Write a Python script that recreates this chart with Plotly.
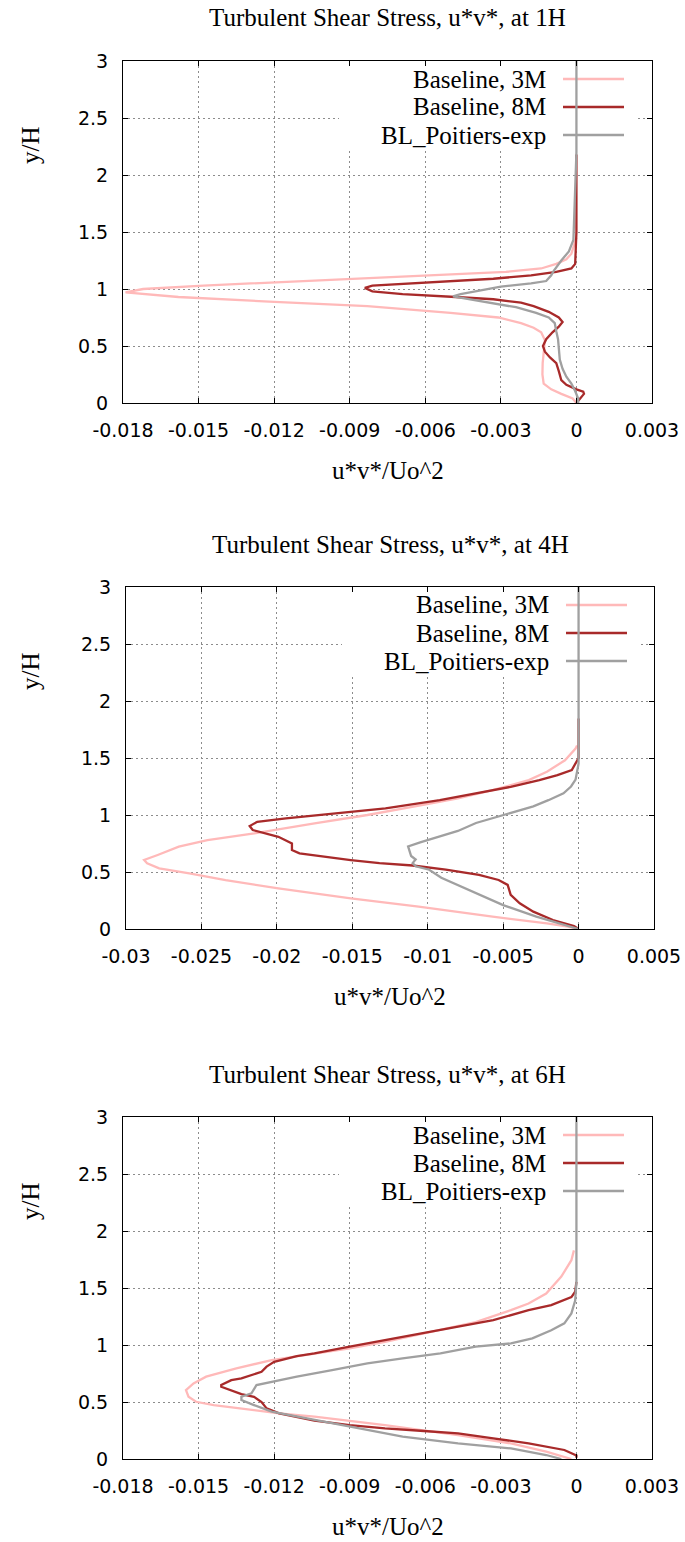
import plotly.graph_objects as go

# ---------------- data ----------------
titles = ["Turbulent Shear Stress, u*v*, at 1H",
          "Turbulent Shear Stress, u*v*, at 4H",
          "Turbulent Shear Stress, u*v*, at 6H"]
series_names = ["Baseline, 3M", "Baseline, 8M", "BL_Poitiers-exp"]
x_title = "u*v*/Uo^2"
y_title = "y/H"

y_tickvals = [0, 0.5, 1, 1.5, 2, 2.5, 3]
y_ticktext = ["0", "0.5", "1", "1.5", "2", "2.5", "3"]
x_tickvals_a = [-0.018, -0.015, -0.012, -0.009, -0.006, -0.003, 0, 0.003]
x_ticktext_a = ["-0.018", "-0.015", "-0.012", "-0.009", "-0.006", "-0.003", "0", "0.003"]
x_tickvals_b = [-0.03, -0.025, -0.02, -0.015, -0.01, -0.005, 0, 0.005]
x_ticktext_b = ["-0.03", "-0.025", "-0.02", "-0.015", "-0.01", "-0.005", "0", "0.005"]

# ---- at 1H ----
p1_3m_y = [0.0, 0.04, 0.08, 0.12, 0.17, 0.25, 0.35, 0.45, 0.55, 0.62, 0.66, 0.70, 0.75,
           0.79, 0.82, 0.85, 0.89, 0.93, 0.97, 1.00, 1.03, 1.06, 1.09, 1.12, 1.15, 1.18,
           1.22, 1.26, 1.31, 1.38, 1.45]
p1_3m_x = [0.0, -0.00015, -0.0006, -0.001, -0.0013, -0.00135, -0.00134, -0.0013, -0.00125,
           -0.0014, -0.0017, -0.0022, -0.0031, -0.005, -0.0066, -0.0083, -0.0122, -0.0158,
           -0.0179, -0.0172, -0.0148, -0.0118, -0.0085, -0.0052, -0.0028, -0.0014, -0.0008,
           -0.0004, -0.0002, -0.0001, 0.0]

p1_8m_y = [0.0, 0.05, 0.08, 0.10, 0.12, 0.16, 0.20, 0.28, 0.35, 0.40, 0.45, 0.50, 0.56,
           0.62, 0.67, 0.71, 0.75, 0.80, 0.85, 0.88, 0.91, 0.93, 0.955, 0.98, 1.01, 1.03,
           1.05, 1.07, 1.09, 1.12, 1.15, 1.18, 1.22, 1.5, 2.05, 2.18]
p1_8m_x = [0.0, 0.0002, 0.0003, 0.00027, 0.0, -0.0004, -0.0006, -0.0007, -0.0008, -0.00105,
           -0.00125, -0.00133, -0.0012, -0.00095, -0.0007, -0.00055, -0.0007, -0.0011,
           -0.0017, -0.0022, -0.0033, -0.0048, -0.0069, -0.0081, -0.0084, -0.0081, -0.0064,
           -0.0048, -0.0033, -0.0018, -0.0008, -0.0002, -0.00005, 0.0, 0.0, 0.0]

p1_exp_y = [0.0, 0.04, 0.11, 0.17, 0.23, 0.30, 0.38, 0.49, 0.56, 0.63, 0.70, 0.75, 0.79,
            0.84, 0.89, 0.935, 0.955, 0.99, 1.02, 1.05, 1.07, 1.12, 1.16, 1.25, 1.33, 1.43,
            1.55, 1.70, 1.90, 2.2, 3.0]
p1_exp_x = [0.00007, 0.00007, -0.00006, -0.0002, -0.0004, -0.00055, -0.00066, -0.0007,
            -0.00073, -0.0008, -0.00086, -0.0011, -0.0016, -0.0024, -0.0038, -0.0049,
            -0.0046, -0.0037, -0.0030, -0.0018, -0.0012, -0.001, -0.0009, -0.0006, -0.0003,
            -0.00012, -0.0001, -0.00006, -0.00002, 0.0, 0.0]

# ---- at 4H ----
p2_3m_y = [0.0, 0.02, 0.05, 0.108, 0.196, 0.269, 0.356, 0.429, 0.488, 0.532, 0.576, 0.605,
           0.649, 0.722, 0.78, 0.838, 0.926, 1.0, 1.087, 1.145, 1.218, 1.306, 1.379, 1.48,
           1.583, 1.61]
p2_3m_x = [0.0, -0.0007, -0.0021, -0.0057, -0.0106, -0.0151, -0.0199, -0.0234, -0.0258,
           -0.0278, -0.0286, -0.0288, -0.0279, -0.0265, -0.0246, -0.0215, -0.0175, -0.014,
           -0.0104, -0.008, -0.0057, -0.0033, -0.0021, -0.0009, -0.0002, -0.0001]

p2_8m_y = [0.0, 0.026, 0.079, 0.152, 0.226, 0.30, 0.387, 0.43, 0.475, 0.52, 0.557, 0.578,
           0.605, 0.634, 0.663, 0.692, 0.751, 0.809, 0.833, 0.868, 0.903, 0.94, 0.97, 1.014,
           1.058, 1.13, 1.19, 1.247, 1.306, 1.35, 1.394, 1.452, 1.5, 1.846]
p2_8m_x = [0.0, -0.0003, -0.0017, -0.003, -0.0039, -0.0045, -0.0047, -0.0053, -0.0066,
           -0.0088, -0.011, -0.0132, -0.0151, -0.017, -0.0185, -0.019, -0.019, -0.0199,
           -0.0206, -0.0216, -0.0218, -0.0213, -0.0194, -0.0163, -0.0128, -0.0092, -0.0068,
           -0.0045, -0.0026, -0.0014, -0.00045, -0.0002, 0.0, 0.0]

p2_exp_y = [0.0, 0.02, 0.108, 0.21, 0.30, 0.372, 0.45, 0.52, 0.55, 0.578, 0.61, 0.64, 0.68,
            0.724, 0.76, 0.81, 0.86, 0.93, 1.0, 1.076, 1.13, 1.19, 1.25, 1.31, 1.45, 3.0]
p2_exp_x = [0.0, -0.0005, -0.0028, -0.005, -0.0065, -0.0077, -0.0091, -0.0099, -0.0108,
            -0.011, -0.0108, -0.0111, -0.0112, -0.0113, -0.0105, -0.0092, -0.008, -0.0068,
            -0.0049, -0.003, -0.002, -0.001, -0.0005, -0.0002, 0.0, 0.0]

# ---- at 6H ----
p3_3m_y = [0.0, 0.064, 0.137, 0.21, 0.298, 0.371, 0.40, 0.444, 0.473, 0.502, 0.546, 0.605,
           0.663, 0.722, 0.795, 0.868, 0.903, 0.97, 1.028, 1.13, 1.20, 1.306, 1.364, 1.452,
           1.60, 1.744, 1.83]
p3_3m_x = [-0.0002, -0.0012, -0.0026, -0.0047, -0.0076, -0.0104, -0.0118, -0.0133, -0.0144,
           -0.0151, -0.0154, -0.0155, -0.0152, -0.0147, -0.0135, -0.0121, -0.0111, -0.009,
           -0.0076, -0.0054, -0.004, -0.0026, -0.0019, -0.0012, -0.0006, -0.0002, -0.0001]

p3_8m_y = [0.01, 0.03, 0.079, 0.137, 0.181, 0.225, 0.248, 0.269, 0.298, 0.336, 0.40, 0.444,
           0.50, 0.546, 0.57, 0.605, 0.634, 0.649, 0.692, 0.707, 0.765, 0.81, 0.853, 0.903,
           0.926, 0.985, 1.043, 1.10, 1.16, 1.218, 1.306, 1.35, 1.42, 1.467, 1.554]
p3_8m_x = [0.0, 0.0, -0.00048, -0.0019, -0.0033, -0.0047, -0.0062, -0.0076, -0.009, -0.0104,
           -0.0118, -0.0123, -0.0125, -0.0128, -0.0133, -0.0137, -0.0141, -0.0141, -0.0137,
           -0.0133, -0.0125, -0.0123, -0.012, -0.0111, -0.0104, -0.009, -0.0076, -0.0062,
           -0.0047, -0.0033, -0.0019, -0.001, -0.0002, -0.00005, 0.0]

p3_exp_y = [0.0, 0.035, 0.093, 0.137, 0.196, 0.254, 0.313, 0.371, 0.415, 0.473, 0.517, 0.546,
            0.576, 0.649, 0.678, 0.722, 0.78, 0.838, 0.882, 0.926, 0.985, 1.014, 1.058, 1.13,
            1.19, 1.277, 1.39, 1.55, 3.0]
p3_exp_x = [-0.0006, -0.0012, -0.0026, -0.0047, -0.0069, -0.0083, -0.0097, -0.0111, -0.0121,
            -0.0128, -0.0133, -0.0133, -0.0129, -0.0127, -0.0121, -0.0111, -0.0097, -0.0083,
            -0.0069, -0.0054, -0.004, -0.0026, -0.00175, -0.001, -0.00048, -0.0002, -0.00005,
            0.0, 0.0]

# ---------------- styling / layout ----------------
W, H = 685, 1542
colors = ["#ffb9b9", "#a82a2a", "#a0a0a0"]
SERIF = "Liberation Serif"
SANS = "DejaVu Sans"
YR = [0, 3]

panels = [
    dict(top=61, bot=403, left=123, right=652, xr=[-0.018, 0.003],
         tv=x_tickvals_a, tt=x_ticktext_a,
         data=[(p1_3m_x, p1_3m_y), (p1_8m_x, p1_8m_y), (p1_exp_x, p1_exp_y)]),
    dict(top=587, bot=929, left=126, right=654, xr=[-0.03, 0.005],
         tv=x_tickvals_b, tt=x_ticktext_b,
         data=[(p2_3m_x, p2_3m_y), (p2_8m_x, p2_8m_y), (p2_exp_x, p2_exp_y)]),
    dict(top=1117, bot=1459, left=123, right=652, xr=[-0.018, 0.003],
         tv=x_tickvals_a, tt=x_ticktext_a,
         data=[(p3_3m_x, p3_3m_y), (p3_8m_x, p3_8m_y), (p3_exp_x, p3_exp_y)]),
]

fig = go.Figure()
annotations = []
shapes = []
layout_axes = {}

for i, p in enumerate(panels):
    n = "" if i == 0 else str(i + 1)
    xa, ya = "x" + n, "y" + n
    for k, (xs, ys) in enumerate(p["data"]):
        fig.add_trace(go.Scatter(x=xs, y=ys, mode="lines", name=series_names[k],
                                 line=dict(color=colors[k], width=2.3),
                                 showlegend=False, xaxis=xa, yaxis=ya))
    xdom = [p["left"] / W, p["right"] / W]
    ydom = [1 - p["bot"] / H, 1 - p["top"] / H]
    common = dict(showline=True, linecolor="#000000", linewidth=1, mirror="ticks",
                  ticks="inside", ticklen=5, tickcolor="#000000", tickwidth=1,
                  showgrid=True, gridcolor="#8c8c8c", gridwidth=1, griddash="2px,3px",
                  zeroline=False, tickfont=dict(family=SANS, size=19, color="#000000"),
                  ticklabelstandoff=10, automargin=False)
    layout_axes["xaxis" + n] = dict(common, domain=xdom, range=p["xr"], anchor=ya,
                                    tickmode="array", tickvals=p["tv"], ticktext=p["tt"])
    layout_axes["yaxis" + n] = dict(common, domain=ydom, range=YR, anchor=xa,
                                    tickmode="array", tickvals=y_tickvals,
                                    ticktext=y_ticktext)

    # pixel -> data helpers for legend placement (layout only)
    def dx(px, p=p):
        return p["xr"][0] + (px - p["left"]) / (p["right"] - p["left"]) * (p["xr"][1] - p["xr"][0])

    def dy(py, p=p):
        return YR[0] + (p["bot"] - py) / (p["bot"] - p["top"]) * (YR[1] - YR[0])

    cx = (p["left"] + p["right"]) / 2 / W
    annotations.append(dict(text=titles[i], x=cx, y=1 - (p["top"] - 43) / H,
                            xref="paper", yref="paper", showarrow=False,
                            xanchor="center", yanchor="middle",
                            font=dict(family=SERIF, size=25, color="#000000")))
    annotations.append(dict(text=x_title, x=cx, y=1 - (p["bot"] + 67) / H,
                            xref="paper", yref="paper", showarrow=False,
                            xanchor="center", yanchor="middle",
                            font=dict(family=SERIF, size=25, color="#000000")))
    annotations.append(dict(text=y_title, x=30 / W, y=1 - (p["top"] + 84) / H,
                            xref="paper", yref="paper", showarrow=False, textangle=-90,
                            xanchor="center", yanchor="middle",
                            font=dict(family=SERIF, size=25, color="#000000")))
    # legend box (white, above grid, below curves)
    off = p["left"] - 123
    shapes.append(dict(type="rect", layer="between", xref=xa, yref=ya,
                       x0=dx(339 + off), x1=dx(638 + off),
                       y0=dy(p["top"] + 87), y1=YR[1],
                       fillcolor="white", line=dict(width=0)))
    for k in range(3):
        py = p["top"] + 18 + 28 * k
        shapes.append(dict(type="line", layer="between", xref=xa, yref=ya,
                           x0=dx(563 + off), x1=dx(624 + off), y0=dy(py), y1=dy(py),
                           line=dict(color=colors[k], width=2.3)))
        annotations.append(dict(text=series_names[k], xref="paper", yref="paper",
                                x=(548 + off) / W, y=1 - py / H,
                                showarrow=False, xanchor="right", yanchor="middle",
                                font=dict(family=SERIF, size=25, color="#000000")))

fig.update_layout(width=W, height=H, margin=dict(l=0, r=0, t=0, b=0, autoexpand=False),
                  paper_bgcolor="white", plot_bgcolor="white",
                  annotations=annotations, shapes=shapes, showlegend=False,
                  **layout_axes)

fig.write_html("out.html")
